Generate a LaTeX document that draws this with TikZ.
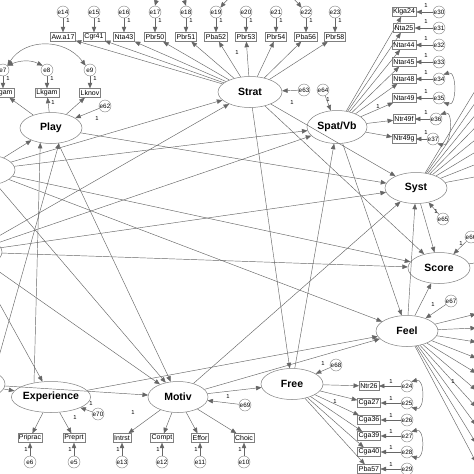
\documentclass[tikz,border=0pt]{standalone}
\usepackage{fontspec}
\setmainfont{Liberation Sans}
\usetikzlibrary{shapes.geometric,arrows.meta}
\begin{document}
\begin{tikzpicture}[x=1pt,y=-1pt,
  lat/.style={ellipse, draw=black!50, line width=0.5pt, minimum width=62pt, minimum height=31pt, inner sep=0pt, font=\bfseries\fontsize{10.5}{11}\selectfont},
  obs/.style={rectangle, draw=black!50, line width=0.4pt, minimum height=9pt, inner sep=1.2pt, font=\fontsize{7}{7}\selectfont},
  err/.style={circle, draw=black!50, line width=0.4pt, minimum size=12pt, inner sep=0pt, font=\fontsize{6.3}{6.3}\selectfont},
  arr/.style={draw=black!60, line width=0.45pt, -{Triangle[length=5.5pt,width=4.5pt]}},
  cov/.style={draw=black!60, line width=0.45pt, {Triangle[length=5.5pt,width=4.5pt]}-{Triangle[length=5.5pt,width=4.5pt]}},
  plain/.style={draw=black!60, line width=0.45pt},
  one/.style={font=\fontsize{5.8}{6}\selectfont, inner sep=0pt}]
\useasboundingbox (0,0) rectangle (474,474);
\clip (0,0) rectangle (474,474);
\fill[white] (0,0) rectangle (474,474);

% ---------- latent variables ----------
\node[lat] (play)  at (51,128)  {Play};
\node[lat, minimum width=64pt] (strat) at (250,92) {Strat};
\node[lat, minimum width=60pt, minimum height=33pt] (spat) at (337,127) {Spat/Vb};
\node[lat] (syst)  at (416,188) {Syst};
\node[lat] (score) at (439,268) {Score};
\node[lat] (feel)  at (407,331) {Feel};
\node[lat] (free)  at (292,384) {Free};
\node[lat, minimum width=60pt] (motiv) at (178,397) {Motiv};
\node[lat] (exper) at (51,397)  {Experience};
% partly hidden latents at the left edge
\node[lat] (lone)   at (-16,170) {};
\node[lat] (lthree) at (-29,252) {};
\node[lat] (ltwo)   at (-26,384) {};

% ---------- Strat indicators ----------
\node[obs] (aw)    at (63,37)  {Aw.a17};
\node[obs] (cgr41) at (94,37)  {Cgr41};
\node[obs] (nta43) at (124,37) {Nta43};
\node[obs] (pbr50) at (155,37) {Pbr50};
\node[obs] (pbr51) at (186,37) {Pbr51};
\node[obs] (pba52) at (216,37) {Pba52};
\node[obs] (pbr53) at (246,37) {Pbr53};
\node[obs] (pbr54) at (276,37) {Pbr54};
\node[obs] (pba56) at (306,37) {Pba56};
\node[obs] (pbr58) at (335,37) {Pbr58};
\foreach \b/\e/\x in {aw/14/63, cgr41/15/94, nta43/16/124, pbr50/17/155, pbr51/18/186, pba52/19/216, pbr53/20/246, pbr54/21/276, pba56/22/306, pbr58/23/335}{
  \node[err] (e\e) at (\x,12) {e\e};
  \draw[arr] (e\e) -- (\b);
  \node[one] (o\e) at (\x+5,21) {1};
  \draw[arr] (strat) -- (\b);
}
\draw[cov] (e17.north) .. controls (159,-9) and (181,-9) .. (e18.north);
\draw[cov] (e19.north east) .. controls (240,-16) and (282,-16) .. (e22.north west);
\node[one] (ostr) at (237,53) {1};

% ---------- Play indicators ----------
\node[obs] (ligam) at (3,93)  {Ligam};
\node[obs] (lkgam) at (47,93) {Lkgam};
\node[obs] (lknov) at (90,93) {Lknov};
\foreach \b/\e/\x in {ligam/7/3, lkgam/8/47, lknov/9/90}{
  \node[err] (e\e) at (\x,70) {e\e};
  \draw[arr] (e\e) -- (\b);
  \node[one] (o\e) at (\x+5,79) {1};
  \draw[arr] (play) -- (\b);
}
\draw[cov] (e7.north east) .. controls (21,60) and (31,60) .. (e8.north west);
\draw[cov] (e7.north east) .. controls (25,38) and (65,38) .. (e9.north west);
\node[one] (oplay) at (53,103) {1};
\node[err] (e62) at (105,106) {e62};
\draw[arr] (e62) -- (play);
\node[one] (o62) at (97,119) {1};

% ---------- Spat/Vb indicators ----------
\foreach \b/\t/\e/\y/\ex in {klga24/Klga24/30/12/439, nta25/Nta25/31/28/439, ntar44/Ntar44/32/45/439, ntar45/Ntar45/33/62/439, ntar48/Ntar48/34/79/439, ntar49/Ntar49/35/98/439, ntr49f/Ntr49f/36/119/436, ntr49g/Ntr49g/37/139/433}{
  \node[obs] (\b) at (404,\y) {\t};
  \node[err] (e\e) at (\ex,\y) {e\e};
  \draw[arr] (e\e) -- (\b);
  \node[one] (o\e) at (426,\y-6) {1};
  \draw[arr] (spat) -- (\b);
}
\draw[cov] (e34.north east) .. controls (457,70) and (457,107) .. (e35.south east);
\draw[cov] (e36.north east) .. controls (454,110) and (451,148) .. (e37.south east);
\node[one] (ospat) at (378,107) {1};
\node[err] (e63) at (304,90) {e63};
\draw[arr] (e63) -- (strat);
\node[one] (o63) at (292,103) {1};
\node[err] (e64) at (323,90) {e64};
\draw[arr] (e64) -- (spat);
\node[one] (o64) at (328,100) {1};

% ---------- Syst indicators (off the right edge) ----------
\foreach \i/\y in {1/30, 2/50, 3/70, 4/90, 5/110, 6/130, 7/150, 8/170}{
  \coordinate (sy\i) at (512,\y);
  \draw[arr] (syst) -- (sy\i);
}
\node[err] (e65) at (443,219) {e65};
\draw[arr] (e65) -- (syst);
\node[one] (o65) at (436,212) {1};

% ---------- Score ----------
\node[err] (e66) at (471,237) {e66};
\draw[arr] (e66) -- (score);
\node[one] (o66) at (461,244) {1};
\coordinate (scr) at (482,262);
\draw[plain] (score) -- (scr);

% ---------- Feel indicators (off the right edge) ----------
\foreach \i/\y in {1/314, 2/328, 3/342, 4/358, 5/373, 6/390, 7/407, 8/425, 9/443, 10/462}{
  \coordinate (fe\i) at (476,\y);
  \draw[arr] (feel) -- (fe\i);
}
\node[one] (ofeel) at (453,382) {1};
\node[err] (e67) at (451,301) {e67};
\draw[arr] (e67) -- (feel);
\node[one] (o67) at (433,305) {1};

% ---------- Free indicators ----------
\foreach \b/\t/\e/\y in {ntr26/Ntr26/24/386, cga27/Cga27/25/403, cga36/Cga36/26/420, cga39/Cga39/27/436, cga40/Cga40/28/452, pba57/Pba57/29/469}{
  \node[obs] (\b) at (369,\y) {\t};
  \node[err] (e\e) at (407,\y) {e\e};
  \draw[arr] (e\e) -- (\b);
  \node[one] (o\e) at (391,\y-5) {1};
  \draw[arr] (free) -- (\b);
}
\draw[cov] (e24.north east) .. controls (425,378) and (425,411) .. (e25.south east);
\draw[cov] (e27.north east) .. controls (425,428) and (425,460) .. (e28.south east);
\node[one] (ofree) at (335,401) {1};
\node[err] (e68) at (336,365) {e68};
\draw[arr] (e68) -- (free);
\node[one] (o68) at (323,364) {1};

% ---------- Motiv indicators ----------
\foreach \b/\t/\e/\x in {intrst/Intrst/13/122, compt/Compt/12/162, effor/Effor/11/200, choic/Choic/10/244}{
  \node[obs] (\b) at (\x,438) {\t};
  \node[err] (e\e) at (\x,462) {e\e};
  \draw[arr] (e\e) -- (\b);
  \node[one] (o\e) at (\x-4,449) {1};
  \draw[arr] (motiv) -- (\b);
}
\node[one] (omotiv) at (133,412) {1};
\node[err] (e69) at (245,405) {e69};
\draw[arr] (e69) -- (motiv);
\node[one] (o69) at (228,396) {1};

% ---------- Experience indicators ----------
\foreach \b/\t/\e/\x in {priprac/Priprac/6/30, preprt/Preprt/5/74}{
  \node[obs] (\b) at (\x,438) {\t};
  \node[err] (e\e) at (\x,462) {e\e};
  \draw[arr] (e\e) -- (\b);
  \node[one] (o\e) at (\x-4,449) {1};
  \draw[arr] (exper) -- (\b);
}
\node[one] (oexp) at (75,417) {1};
\node[err] (e70) at (98,414) {e70};
\draw[arr] (e70) -- (exper);
\node[one] (o70) at (91,403) {1};

% ---------- structural paths ----------
\foreach \a/\b in {lone/play, lone/strat, lone/spat, lone/score, lone/motiv, lone/feel,
  lthree/lone, lthree/strat, lthree/spat, lthree/syst, lthree/score, lthree/motiv, lthree/exper,
  ltwo/exper, ltwo/motiv, exper/feel,
  play/motiv, play/syst, strat/free, strat/syst, strat/score,
  free/spat, spat/feel, motiv/syst, motiv/feel, motiv/free,
  feel/syst, feel/score, syst/score}{
  \draw[arr] (\a) -- (\b);
}
\draw[arr] (exper.140) -- (play.234);
\draw[arr] (ltwo.30) -- (play.298);
\end{tikzpicture}
\end{document}
